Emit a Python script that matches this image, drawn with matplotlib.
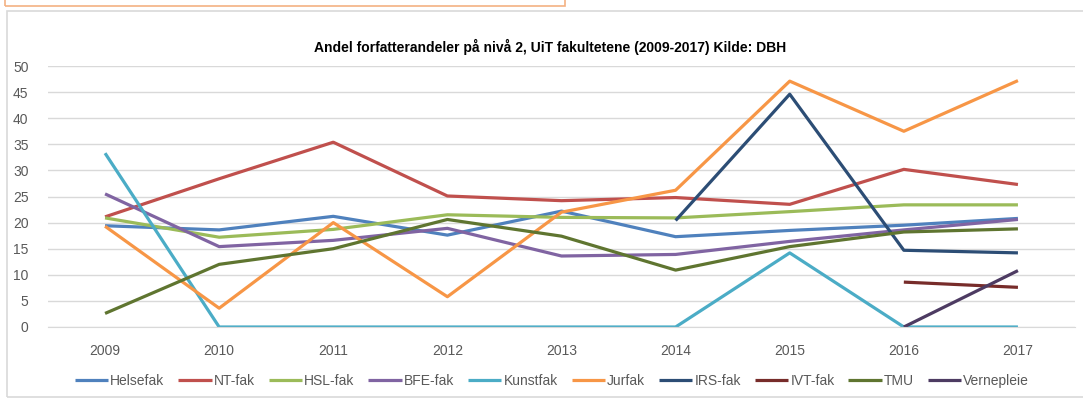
import numpy as np
import matplotlib.pyplot as plt
from matplotlib.patches import Rectangle

nan = np.nan
years = [2009, 2010, 2011, 2012, 2013, 2014, 2015, 2016, 2017]

helsefak = [19.4, 18.6, 21.2, 17.6, 22.2, 17.3, 18.5, 19.5, 20.8]
nt_fak = [21.1, 28.4, 35.4, 25.1, 24.2, 24.8, 23.5, 30.2, 27.3]
hsl_fak = [20.9, 17.2, 18.7, 21.5, 21.0, 20.9, 22.1, 23.4, 23.4]
bfe_fak = [25.5, 15.4, 16.6, 18.9, 13.6, 13.9, 16.4, 18.6, 20.6]
kunstfak = [33.3, 0, 0, 0, 0, 0, 14.2, 0, 0]
jurfak = [19.3, 3.6, 20.0, 5.8, 22.0, 26.2, 47.1, 37.5, 47.2]
irs_fak = [nan, nan, nan, nan, nan, 20.4, 44.6, 14.7, 14.2]
ivt_fak = [nan, nan, nan, nan, nan, nan, nan, 8.6, 7.6]
tmu = [2.6, 12.0, 15.0, 20.6, 17.4, 10.9, 15.4, 18.2, 18.8]
vernepleie = [nan, nan, nan, nan, nan, nan, nan, 0, 10.8]

series = [
    ("Helsefak", helsefak, "#4F81BD"),
    ("NT-fak", nt_fak, "#C0504D"),
    ("HSL-fak", hsl_fak, "#9BBB59"),
    ("BFE-fak", bfe_fak, "#8064A2"),
    ("Kunstfak", kunstfak, "#4BACC6"),
    ("Jurfak", jurfak, "#F79646"),
    ("IRS-fak", irs_fak, "#2C4D75"),
    ("IVT-fak", ivt_fak, "#772C2A"),
    ("TMU", tmu, "#5F7530"),
    ("Vernepleie", vernepleie, "#4D3B62"),
]

plt.rcParams['font.family'] = ['Liberation Sans', 'DejaVu Sans']

W, H = 1083, 403
fig = plt.figure(figsize=(W / 100, H / 100), dpi=100)
fig.patch.set_facecolor("white")

# orange text box at top and chart frame
fig.patches.append(Rectangle((5 / W, 1 - 6 / H), 560 / W, 0.1, transform=fig.transFigure,
                             fill=False, edgecolor="#F4B183", lw=1.2))
fig.patches.append(Rectangle((7 / W, 1 - 397 / H), 1.0, (397 - 11) / H, transform=fig.transFigure,
                             fill=False, edgecolor="#D9D9D9", lw=1.2))

ax = fig.add_axes([48 / W, 1 - 327 / H, (1075 - 48) / W, (327 - 66) / H])
x = np.arange(len(years))
for name, vals, col in series:
    ax.plot(x, vals, color=col, lw=2.3, label=name, solid_capstyle="butt")

ax.set_xlim(-0.5, len(years) - 0.5)
ax.set_ylim(0, 50)
ax.set_yticks(range(0, 51, 5))
ax.set_xticks(x)
ax.set_xticklabels([str(y) for y in years])
ax.yaxis.grid(True, color="#D9D9D9", lw=1)
ax.set_axisbelow(True)
for s in ["top", "right", "left"]:
    ax.spines[s].set_visible(False)
ax.spines["bottom"].set_color("#D9D9D9")
ax.tick_params(length=0, colors="#595959", labelsize=10)
ax.tick_params(axis="x", pad=12)
ax.tick_params(axis="y", pad=14)

fig.text(550 / W, 1 - 47 / H, "Andel forfatterandeler på nivå 2, UiT fakultetene (2009-2017) Kilde: DBH",
         ha="center", va="center", fontsize=10, fontweight="bold", color="black")

fig.legend(loc="center", bbox_to_anchor=(552 / W, 1 - 381 / H), ncol=10, frameon=False,
           fontsize=10, handlelength=2.4, columnspacing=1.0, handletextpad=0.15,
           labelcolor="#595959")

fig.savefig("out.png", dpi=100)
